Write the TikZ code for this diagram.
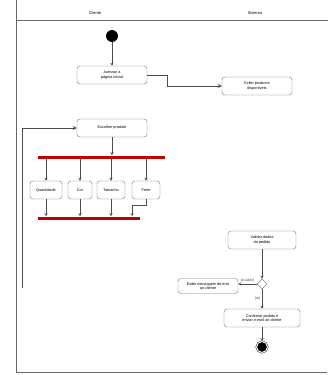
\documentclass[tikz,border=0pt]{standalone}
\usepackage{fontspec}
\setmainfont{Liberation Sans}
\usetikzlibrary{shapes.geometric, arrows, positioning, calc}

\begin{document}
\begin{tikzpicture}[x=1pt, y=-1pt,
    start/.style={circle, fill=black, minimum size=12pt, inner sep=0pt},
    stop/.style={circle, fill=black, draw=black, minimum size=11pt, inner sep=0pt, double=white, double distance=1pt},
    act/.style={draw=black!55, rounded corners=3pt, minimum width=70pt,
                minimum height=18pt, align=center, inner sep=1pt,
                font=\fontsize{3.8}{4.4}\selectfont},
    bar/.style={fill=red!75!black, minimum height=3pt, inner sep=0pt},
    dec/.style={draw=black!60, diamond, minimum size=10pt, inner sep=0pt},
    lane/.style={font=\fontsize{4}{5}\selectfont},
    guard/.style={font=\fontsize{3.4}{4}\selectfont, inner sep=0.5pt},
    arr/.style={->, >=stealth, black!70, thin}
]
\useasboundingbox (0,0) rectangle (328,375);
% frame and lanes
\draw[black!60, line width=0.8pt] (16,0) -- (16,372) -- (327,372);
\draw[black!60, line width=0.8pt] (16,20) -- (328,20);
\node[lane] (hl) at (95,13)  {Cliente};
\node[lane] (hr) at (255,13) {Sistema};

\node[start]  (s)   at (112, 36) {};
\node[act]    (a1)  at (112, 75) {Acessar a\\página inicial};
\node[act]    (r1)  at (257, 86) {Exibir produtos\\disponíveis};
\node[act]    (a3)  at (112,128) {Escolher produto};
\node[bar, minimum width=127pt] (f1) at (101.5,157) {};
\node[act, minimum width=32pt] (q1) at ( 46,190) {Quantidade};
\node[act, minimum width=24pt] (q2) at ( 80,190) {Cor};
\node[act, minimum width=28pt] (q3) at (111,190) {Tamanho};
\node[act, minimum width=28pt] (q4) at (146,190) {Frete};
\node[bar, minimum width=102pt] (j1) at ( 89,218) {};
\node[act, minimum width=68pt] (r2) at (262,240) {Validar dados\\do pedido};
\node[dec]    (d1)  at (262,284) {};
\node[act, minimum width=60pt, minimum height=15pt] (err) at (208,286) {Exibir mensagem de erro\\ao cliente};
\node[act, minimum width=76pt] (r3) at (262,318) {Confirmar pedido e\\enviar e-mail ao cliente};
\node[stop]   (e)   at (262,347) {};
\coordinate (lp) at (22,288);

\draw[arr] (s)  -- (a1);
\draw[arr, line width=0.8pt] (a1.east) -- ++(20,0) |- (r1.west);
\draw[arr, line width=0.8pt] (lp) |- (a3.west);
\draw[arr] (a3) -- (a3 |- f1.north);
\foreach \q in {q1,q2,q3,q4}
  \draw[arr] (f1.south -| \q.north) -- (\q.north);
\foreach \q in {q1,q2,q3}
  \draw[arr] (\q.south) -- (\q.south |- j1.north);
\draw[arr] (q4.south) -- ++(0,6) -| ($(j1.north east)+(-8,0)$);
\draw[arr] (r2) -- (d1);
\draw[arr] (d1) -- node[guard, above=1pt]{[inválido]} (d1 -| err.east);
\draw[arr] (d1) -- node[guard, left=1pt]{[ok]} (r3);
\draw[arr] (r3) -- (e);
\end{tikzpicture}
\end{document}
